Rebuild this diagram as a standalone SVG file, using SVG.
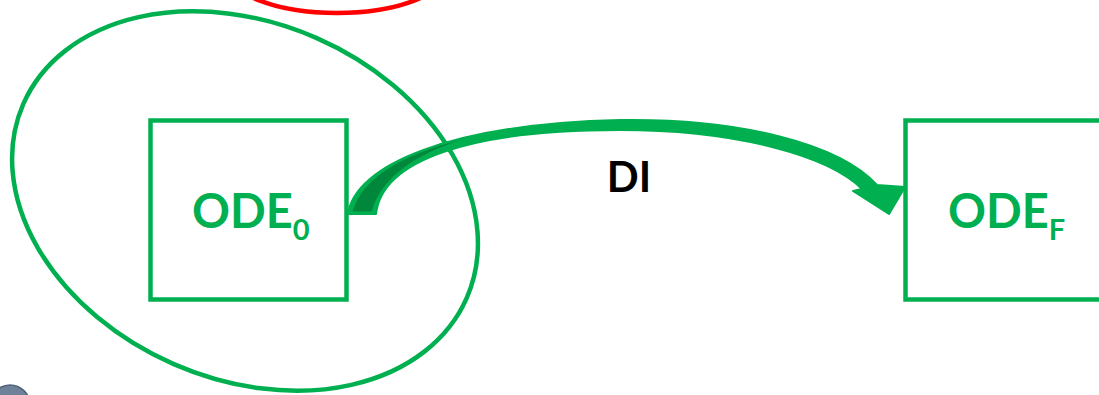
<svg xmlns="http://www.w3.org/2000/svg" width="1099" height="395" viewBox="0 0 1099 395">
<style>
.box{fill:none;stroke:#00B050;stroke-width:4.5}
.lbl{font-family:Lato,"Open Sans","Liberation Sans",sans-serif;font-weight:bold;fill:#00B050;font-size:47px}
.sub{font-size:29px}
</style>
<rect width="1099" height="395" fill="#FFFFFF"/>
<g id="red-ellipse">
<ellipse cx="337" cy="-30" rx="110" ry="43" fill="none" stroke="#FF0000" stroke-width="4.5"/>
</g>
<g id="green-ellipse">
<ellipse cx="245" cy="201" rx="242" ry="178" transform="rotate(23.6 245 201)" fill="none" stroke="#00B050" stroke-width="4.5"/>
</g>
<g id="icon">
<circle cx="10" cy="405" r="20" fill="#6D8299" stroke="#4F6378" stroke-width="1.5"/>
</g>
<g id="node-ode0">
<rect class="box" x="150.5" y="120.5" width="196" height="179"/>
<text class="lbl" x="192" y="228">ODE<tspan class="sub" dy="12">0</tspan></text>
</g>
<g id="node-odef">
<rect class="box" x="905.5" y="120.5" width="250" height="179"/>
<text class="lbl" x="948" y="228">ODE<tspan class="sub" dy="12">F</tspan></text>
</g>
<g id="connectors">
<path d="M 348,214 C 355,165 450,124 620,120 C 740,118 840,144 877,185 L 905,187 L 889,214 L 853,191 L 862,189 C 830,157 740,130 620,130 C 470,130 382,160 376,214 Z" fill="#00B050" stroke="#00B050" stroke-width="2" stroke-linejoin="round"/>
<path d="M 352,212 C 362,175 410,150 472,137 C 420,152 382,175 372,212 Z" fill="#00873C" stroke="#00B050" stroke-width="1"/>
<text x="629" y="192" text-anchor="middle" font-family="Lato,'Open Sans','Liberation Sans',sans-serif" font-weight="bold" font-size="42" fill="#000000">DI</text>
</g>
</svg>
